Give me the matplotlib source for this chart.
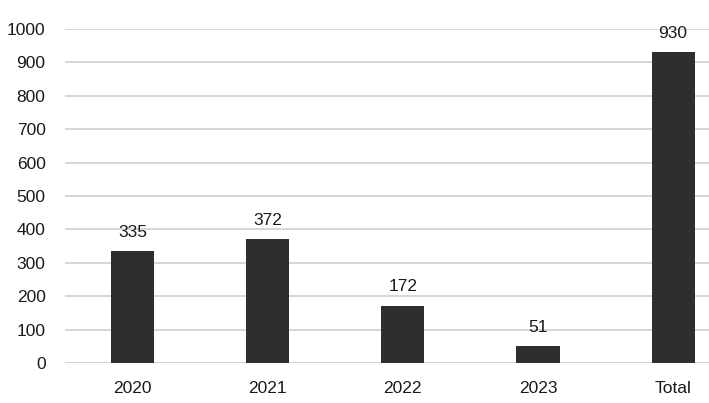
import matplotlib.pyplot as plt
import numpy as np

categories = ['2020', '2021', '2022', '2023', 'Total']
values = [335, 372, 172, 51, 930]
yticks = [0, 100, 200, 300, 400, 500, 600, 700, 800, 900, 1000]

plt.rcParams['font.family'] = ['Liberation Sans', 'DejaVu Sans']

fig = plt.figure(figsize=(7.09, 4.03), dpi=100)
# plot area runs past the right edge, like the cropped original
ax = fig.add_axes([0.0917, 0.0993, 0.953, 0.829])

x = np.arange(len(categories))
bars = ax.bar(x, values, width=0.32, color='#2e2e2e', zorder=3)

for xi, v in zip(x, values):
    ax.annotate(str(v), (xi, v), xytext=(0, 8), textcoords='offset points',
                ha='center', va='bottom', fontsize=12.5, color='#1a1a1a')

ax.set_xlim(-0.5, len(categories) - 0.5)
ax.set_ylim(0, 1000)
ax.set_yticks(yticks)
ax.set_xticks(x)
ax.set_xticklabels(categories)

ax.yaxis.grid(True, color='#d0d0d0', linewidth=1.2, zorder=0)
ax.set_axisbelow(True)
for s in ax.spines.values():
    s.set_visible(False)
ax.axhline(0, color='#d0d0d0', linewidth=1.2, zorder=2)

ax.tick_params(axis='both', length=0, labelsize=12.5, labelcolor='#1a1a1a')
ax.tick_params(axis='x', pad=13)
ax.tick_params(axis='y', pad=14)

plt.savefig('out.png', dpi=100)
